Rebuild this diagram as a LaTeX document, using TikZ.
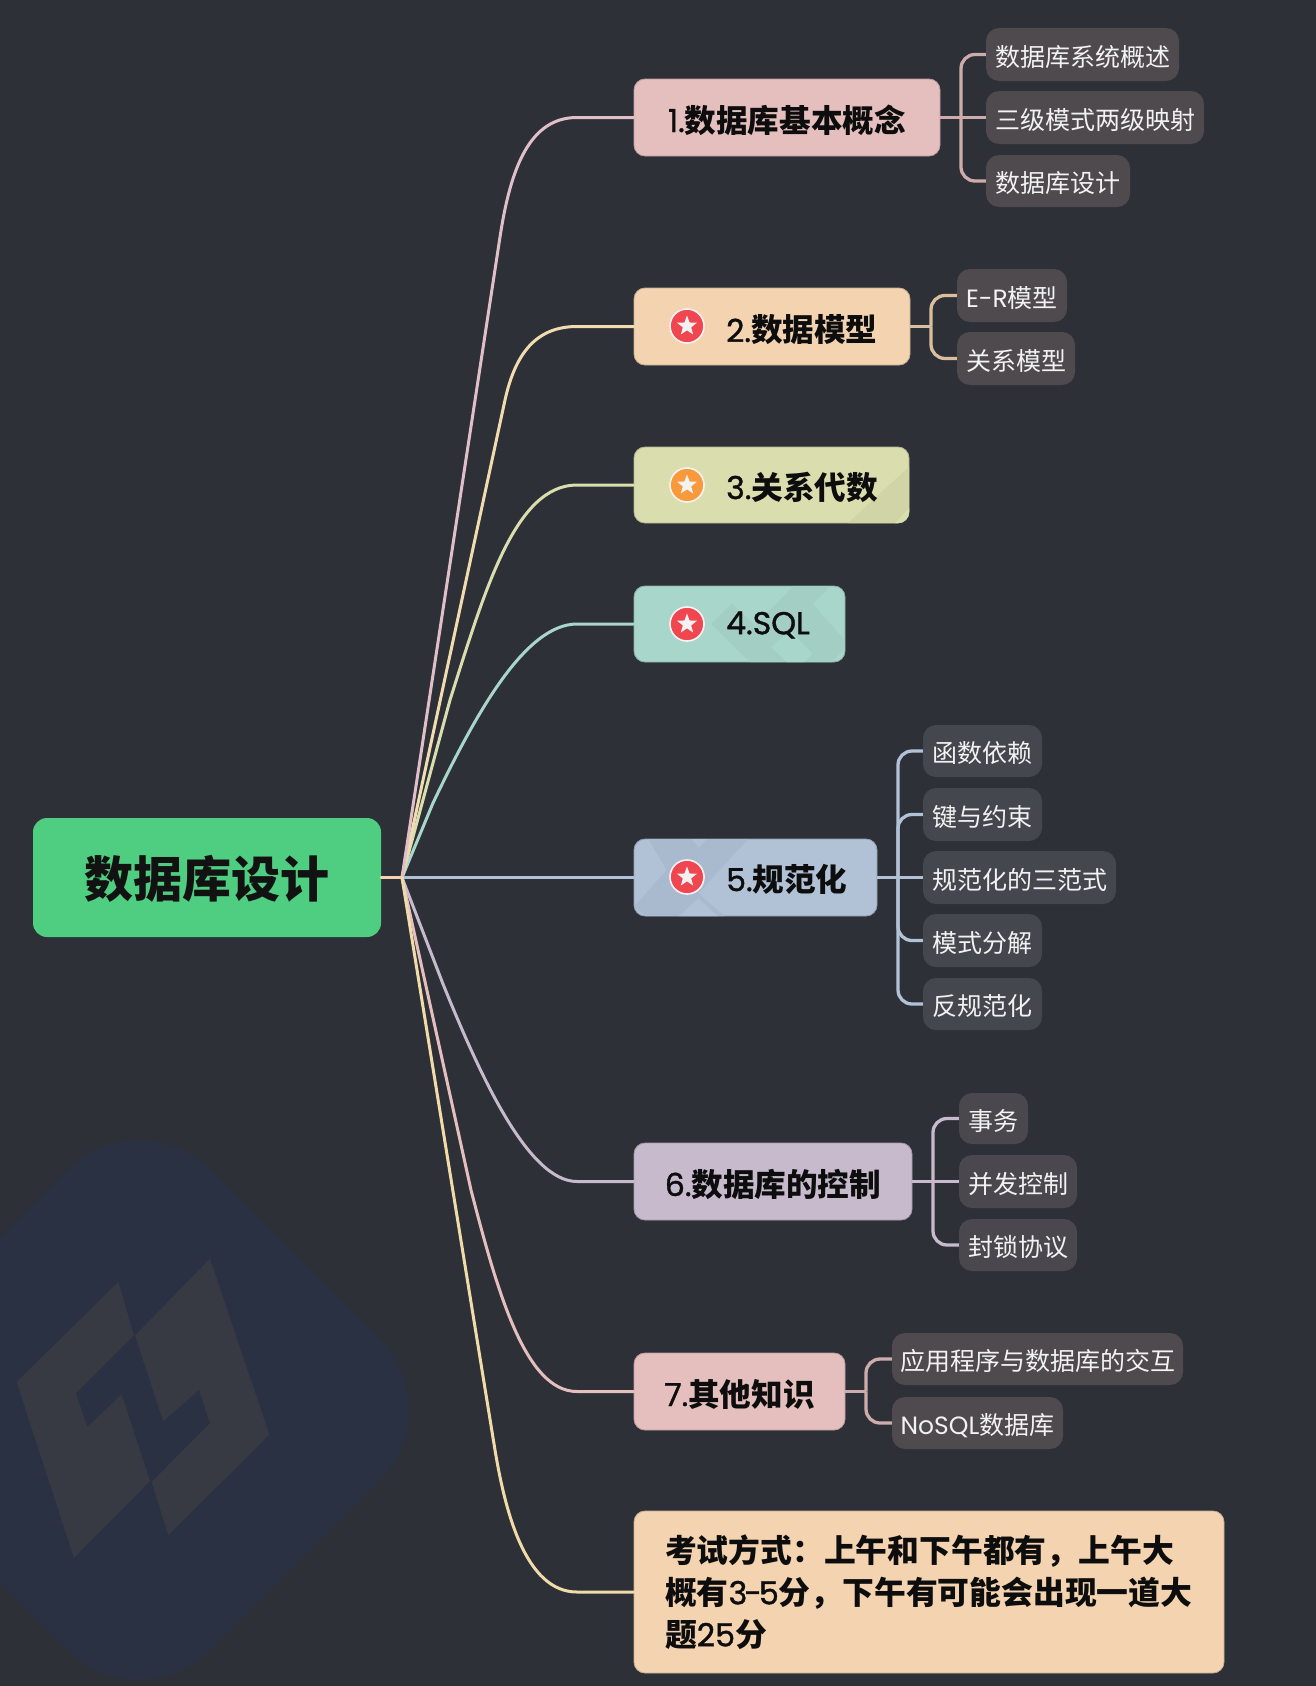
\documentclass[tikz,border=0pt]{standalone}
\usepackage{fontspec}
\usetikzlibrary{shapes.geometric,calc}
\setmainfont{Noto Sans CJK SC}
\newfontfamily\tlatf{Poppins}
\newfontfamily\hlatf[FakeBold=1.2]{Poppins}
\newcommand\hlat[1]{{\mdseries\hlatf #1}}
\newcommand\tlat[1]{{\tlatf #1}}
\definecolor{bgc}{HTML}{2D3037}
\definecolor{wmc}{HTML}{293143}
\definecolor{logoc}{HTML}{383A43}
\definecolor{rootc}{HTML}{4FCD80}
\definecolor{c1}{HTML}{E5BFBE}
\definecolor{c2}{HTML}{F3D3B0}
\definecolor{c3}{HTML}{DADDAE}
\definecolor{c3d}{HTML}{D1D4A6}
\definecolor{c4}{HTML}{A9D6CB}
\definecolor{c5}{HTML}{B1C2D6}
\definecolor{c6}{HTML}{C7BACD}
\definecolor{l1}{HTML}{E0BFC8}
\definecolor{l2}{HTML}{F1DCB0}
\definecolor{l8}{HTML}{F1DBA8}
\definecolor{warm}{HTML}{4E4A4D}
\definecolor{cool}{HTML}{45474F}
\definecolor{mid}{HTML}{4A484E}
\definecolor{redi}{HTML}{EF4650}
\definecolor{orai}{HTML}{F89A3C}
\tikzset{
  mainbox/.style={rectangle,rounded corners=11,inner sep=0,line width=0.8,font=\fontsize{31.6}{36}\selectfont\bfseries,text=black!95,text height=29,text depth=0},
  subbox/.style={rectangle,rounded corners=13,inner sep=0,font=\fontsize{25}{30}\selectfont,text=white!95!black,text height=23.6,text depth=0},
  heading/.style={inner sep=0,anchor=west,font=\fontsize{31.6}{36}\selectfont\bfseries,text=black!95},
  branch/.style={line width=3,line join=round,line cap=round},
  twig/.style={line width=3.3,rounded corners=14},
  icon/.style={circle,draw=white!95!red,line width=1.6,minimum size=34,inner sep=0},
  starmark/.style={star,star points=5,star point ratio=2.4,fill=white!95!black,minimum size=21,inner sep=0}
}
% \subn{name}{x0}{y0}{x1}{y1}{colour}{text}
\newcommand\subn[7]{\node[subbox,fill=#6,minimum width={#4-#2},minimum height={#5-#3}] (#1) at ({(#2+#4)/2},{(#3+#5)/2}) {#7};}
% \mainn{name}{x0}{y0}{x1}{y1}{colour}{text}
\newcommand\mainn[7]{\node[mainbox,fill=#6,draw=#6!82!black,minimum width={#4-#2},minimum height={#5-#3}] (#1) at ({(#2+#4)/2},{(#3+#5)/2}) {#7};}
\begin{document}
\begin{tikzpicture}[x=1pt,y=-1pt]
\useasboundingbox (0,0) rectangle (1316,1686);
\clip (0,0) rectangle (1316,1686);
\fill[bgc] (0,0) rectangle (1316,1686);
% watermark
\begin{scope}[shift={(139,1410)},rotate=-45]
\fill[wmc,rounded corners=100] (-220,-220) rectangle (220,220);
\end{scope}
\begin{scope}[shift={(0,1100)},x=0.3333pt,y=-0.3737pt]
\fill[logoc] (50,755)--(355,487)--(402,630)--(228,785)--(262,875)--(365,788)--(450,1020)--(222,1225)--cycle;
\fill[logoc] (630,425)--(808,895)--(505,1165)--(455,1022)--(630,865)--(597,775)--(490,860)--(405,630)--cycle;
\end{scope}
% root
\node[rectangle,rounded corners=14,inner sep=0,minimum width=348,minimum height=119,fill=rootc,font=\fontsize{49}{56}\selectfont\bfseries,text=black!93,text height=39,text depth=0] (root) at (207,877.5) {数据库设计};
\coordinate (hub) at (402,877.5);
% main boxes
\mainn{n1}{634}{79}{940}{156}{c1}{\hlat{1.}数据库基本概念}
\mainn{n2}{634}{288}{910}{365}{c2}{}
\mainn{n3}{634}{447}{909}{523}{c3}{}
\mainn{n4}{634}{586}{845}{662}{c4}{}
\mainn{n5}{634}{839}{877}{916}{c5}{}
\mainn{n6}{634}{1143}{912}{1220}{c6}{\hlat{6.}数据库的控制}
\mainn{n7}{634}{1353}{845}{1430}{c1}{\hlat{7.}其他知识}
\node[rectangle,rounded corners=11,inner sep=0,line width=0.8,text=black!95,fill=c2,draw=c2!82!black,minimum width=590,minimum height=162,font=\fontsize{31.8}{42}\selectfont\bfseries,text width=528,align=left] (n8) at (929,1592) {考试方式：上午和下午都有，上午大\\概有\hlat{3\kern-3pt-\kern-3pt5}分，下午有可能会出现一道大\\题\hlat{25}分};
% textures
\begin{scope}
\clip[rounded corners=11] (634,447) rectangle (909,523);
\fill[c3d] (909,467)--(848,523)--(909,523)--cycle;
\fill[c3] (909,508)--(895,523)--(909,523)--cycle;
\end{scope}
\begin{scope}
\clip[rounded corners=11] (634,586) rectangle (845,662);
\begin{scope}[shift={(630,582)},x=0.3333pt,y=-0.3333pt]
\fill[c4!96!black] (245,125)--(305,65)--(375,130)--(490,12)--(600,12)--(548,65)--(640,170)--(640,205)--(600,245)--(365,245)--cycle;
\fill[c4] (425,195)--(480,145)--(548,215)--(518,245)--(475,245)--cycle;
\end{scope}
\end{scope}
\begin{scope}
\clip[rounded corners=11] (634,839) rectangle (877,916);
\begin{scope}[shift={(630,835)},x=0.3333pt,y=-0.3333pt]
\fill[c5!96!black] (55,12)--(355,12)--(205,175)--(135,245)--(50,245)--(12,215)--(110,105)--cycle;
\fill[c5!96!black] (205,175)--(285,245)--(135,245)--cycle;
\fill[c5] (205,190)--(265,245)--(145,245)--cycle;
\fill[c5] (185,12)--(230,12)--(207,38)--cycle;
\end{scope}
\end{scope}
% headings with icons
\node[heading] (t2) at (726,330) {\hlat{2.}数据模型};
\node[heading] (t3) at (726,487) {\hlat{3.}关系代数};
\node[heading] (t4) at (726,625) {\hlat{4.SQL}};
\node[heading] (t5) at (726,879) {\hlat{5.}规范化};
\foreach \nm/\yy/\col in {2/326/redi,3/485/orai,4/624/redi,5/877/redi}{
  \node[icon,fill=\col] (i\nm) at (687,\yy) {};
  \node[starmark] (s\nm) at (687,\yy) {};
}
% sub nodes
\subn{a1}{986}{28}{1179}{81}{warm}{数据库系统概述}
\subn{a2}{986}{91}{1204}{144}{warm}{三级模式两级映射}
\subn{a3}{986}{155}{1130}{207}{warm}{数据库设计}
\subn{b1}{957}{269}{1067}{322}{warm}{\tlat{E-R}模型}
\subn{b2}{957}{332}{1075}{385}{warm}{关系模型}
\subn{e1}{923}{725}{1042}{777}{cool}{函数依赖}
\subn{e2}{923}{788}{1042}{841}{cool}{键与约束}
\subn{e3}{923}{851}{1116}{904}{cool}{规范化的三范式}
\subn{e4}{923}{914}{1042}{967}{cool}{模式分解}
\subn{e5}{923}{978}{1042}{1030}{cool}{反规范化}
\subn{f1}{959}{1093}{1028}{1144}{mid}{事务}
\subn{f2}{959}{1155}{1077}{1208}{mid}{并发控制}
\subn{f3}{959}{1219}{1077}{1271}{mid}{封锁协议}
\subn{g1}{892}{1333}{1183}{1385}{warm}{应用程序与数据库的交互}
\subn{g2}{892}{1397}{1063}{1449}{warm}{\tlat{NoSQL}数据库}
% trunk and branches
\draw[branch,c2] (root.east) -- (hub);
\draw[branch,c5] (hub) -- (n5.west);
\draw[branch,c4] (hub) -- (433,803) .. controls (475,715) and (525,624) .. (577,624) -- (n4.west);
\draw[branch,c3] (hub) -- (450,700) .. controls (485,590) and (515,485) .. (577,485) -- (n3.west);
\draw[branch,l2] (hub) -- (505,400) .. controls (515,355) and (535,326.5) .. (577,326.5) -- (n2.west);
\draw[branch,l1] (hub) -- (500,237) .. controls (510.7,167) and (530,117.5) .. (577,117.5) -- (n1.west);
\draw[branch,c6] (hub) -- (443,984) .. controls (478,1070) and (527,1181.5) .. (577,1181.5) -- (n6.west);
\draw[branch,c1] (hub) -- (471,1190) .. controls (497,1290) and (525,1391.5) .. (577,1391.5) -- (n7.west);
\draw[branch,l8] (hub) -- (495,1450) .. controls (505,1510) and (525,1592) .. (577,1592) -- (n8.west);
% twigs
\coordinate (j1) at (961,117.5);
\draw[twig,c1!90!black] (n1.east) -- (a2.west);
\draw[twig,c1!90!black] (j1) |- (a1.west);
\draw[twig,c1!90!black] (j1) |- (a3.west);
\coordinate (j2) at (931,326.5);
\draw[twig,c2!90!black] (n2.east) -- (j2);
\draw[twig,c2!90!black] (j2) |- (b1.west);
\draw[twig,c2!90!black] (j2) |- (b2.west);
\coordinate (j5) at (898,877.5);
\draw[twig,c5] (n5.east) -- (e3.west);
\foreach \s in {e1,e2,e4,e5}{\draw[twig,c5] (j5) |- (\s.west);}
\coordinate (j6) at (933,1181.5);
\draw[twig,c6] (n6.east) -- (f2.west);
\draw[twig,c6] (j6) |- (f1.west);
\draw[twig,c6] (j6) |- (f3.west);
\coordinate (j7) at (866,1391.5);
\draw[twig,c1!90!black] (n7.east) -- (j7);
\draw[twig,c1!90!black] (j7) |- (g1.west);
\draw[twig,c1!90!black] (j7) |- (g2.west);
\end{tikzpicture}
\end{document}
